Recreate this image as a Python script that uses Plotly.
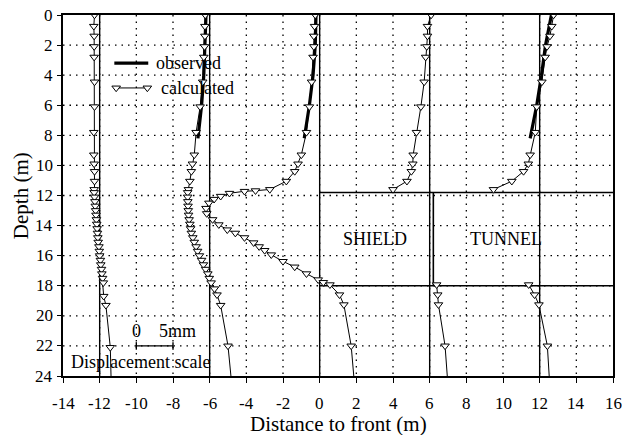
import plotly.graph_objects as go

FONT = "Liberation Serif"
SCALE = 0.4          # plot metres per mm of displacement (5 mm = 2 m)
REFS = {"A": -12, "B": -6, "C": 0, "D": 6, "E": 12}

# depths of calculated nodes above the tunnel (m)
D_UP = [0, 0.75, 1.4, 2.1, 2.8, 4.45, 6.1, 7.8, 9.3, 9.9, 10.4, 11.05, 11.6]
# dense nodes beside the shield (m)
D_DENSE = [11.8, 12.1, 12.4, 12.7, 13.0, 13.3, 13.6, 13.9, 14.2, 14.5, 14.8,
           15.1, 15.4, 15.7, 16.0, 16.3, 16.6, 16.9, 17.2, 17.5, 17.8]

# calculated displacement (mm) -- inclinometer at -12 m
A_depth = D_UP + D_DENSE + [18.7, 19.3, 22.1, 24]
A_disp = ([-0.7, -0.8, -0.75, -0.75, -0.75, -0.7, -0.7, -0.8, -0.8, -0.75, -0.7, -0.7, -0.75]
          + [-0.75, -0.7, -0.65, -0.6, -0.55, -0.5, -0.45, -0.4, -0.35, -0.3, -0.25,
             -0.2, -0.1, -0.05, 0.0, 0.1, 0.15, 0.25, 0.3, 0.4, 0.5]
          + [0.55, 0.85, 1.45, 1.55])

# inclinometer at -6 m
B_depth = D_UP + D_DENSE + [18.2, 18.6, 19.3, 22.0, 24]
B_disp = ([-0.6, -0.65, -0.65, -0.7, -0.8, -0.95, -1.3, -1.85, -2.1, -2.35, -2.5, -2.7, -2.9]
          + [-3.0, -3.0, -2.98, -2.95, -2.92, -2.88, -2.8, -2.7, -2.6, -2.5, -2.3,
             -2.1, -1.85, -1.65, -1.4, -1.1, -0.85, -0.55, -0.25, -0.05, 0.2]
          + [0.65, 1.0, 1.5, 2.5, 2.9])

# inclinometer at 0 m (shield face)
C_depth = D_UP[:12] + [11.6, 11.68, 11.72, 11.85, 12.05, 12.25, 12.5, 12.85, 13.2, 13.6,
                       13.94, 14.28, 14.5, 14.8, 15.14, 15.4, 15.65, 15.94, 16.38, 16.75,
                       17.2, 17.6, 17.78, 17.93, 18.6, 19.26, 22.0, 24]
C_disp = [-0.6, -0.7, -0.8, -0.8, -0.9, -1.1, -1.4, -1.8, -2.5, -2.95, -3.4, -4.55,
          -6.8, -8.75, -10.25, -12.3, -13.5, -14.4, -15.1, -15.5, -15.4, -14.6,
          -13.75, -12.6, -11.5, -10.25, -9.0, -8.25, -7.5, -6.6, -5.0, -3.4,
          -1.8, -0.2, 0.5, 1.4, 2.7, 3.3, 4.3, 4.65]

# inclinometer at 6 m (None = tunnel gap)
D_depth = D_UP + [None, 17.93, 18.6, 19.26, 22.0, 24]
D_disp = [0.2, -0.3, -0.3, -0.4, -0.55, -0.75, -1.2, -1.8, -2.25, -2.3, -2.5, -3.1, -5.0,
          None, 0.95, 1.1, 1.2, 2.1, 2.4]

# inclinometer at 12 m
E_depth = D_UP + [None, 17.93, 18.6, 19.26, 22.0, 24]
E_disp = [1.9, 1.65, 1.4, 1.0, 0.75, 0.3, -0.4, -0.6, -1.3, -1.55, -2.2, -3.8, -6.3,
          None, -1.5, -0.7, -0.1, 1.05, 1.3]

# observed (mm)
OBS_DEPTH = [0, 2, 4, 6, 8.2]
OBS = {"B": [-0.5, -0.6, -0.8, -1.1, -1.6],
       "C": [-0.5, -0.6, -0.9, -1.4, -2.1],
       "E": [1.6, 0.8, 0.25, -0.4, -1.3]}

TUNNEL_TOP, TUNNEL_BOTTOM, SHIELD_TAIL = 11.8, 18.0, 6.2
X_TICKS = list(range(-14, 17, 2))
Y_TICKS = list(range(0, 25, 2))
X_TICK_LABELS = [str(v) for v in X_TICKS]
Y_TICK_LABELS = [str(v) for v in Y_TICKS]
X_RANGE = [-14, 16]
Y_RANGE = [0, 24]

calc = {"A": (A_depth, A_disp), "B": (B_depth, B_disp), "C": (C_depth, C_disp),
        "D": (D_depth, D_disp), "E": (E_depth, E_disp)}

fig = go.Figure()


def pos(ref, disp):
    return [None if v is None else ref + v * SCALE for v in disp]


# dotted grid (drawn as traces, behind everything)
gx, gy = [], []
for v in X_TICKS[1:-1]:
    gx += [v, v, None]
    gy += [Y_RANGE[0], Y_RANGE[1], None]
for v in Y_TICKS[1:-1]:
    gx += [X_RANGE[0], X_RANGE[1], None]
    gy += [v, v, None]
fig.add_trace(go.Scatter(x=gx, y=gy, mode="lines", hoverinfo="skip",
                         line=dict(color="black", width=1.3, dash="1.5px,5px")))

# reference (initial) inclinometer lines
for key, ref in REFS.items():
    fig.add_trace(go.Scatter(x=[ref, ref], y=Y_RANGE, mode="lines",
                             line=dict(color="black", width=1.4), hoverinfo="skip"))

# tunnel outline
fig.add_trace(go.Scatter(x=[0, 16, None, 0, 16, None, SHIELD_TAIL, SHIELD_TAIL],
                         y=[TUNNEL_TOP, TUNNEL_TOP, None, TUNNEL_BOTTOM, TUNNEL_BOTTOM, None,
                            TUNNEL_TOP, TUNNEL_BOTTOM],
                         mode="lines", line=dict(color="black", width=1.6), hoverinfo="skip"))

# observed
for key, vals in OBS.items():
    fig.add_trace(go.Scatter(x=pos(REFS[key], vals), y=OBS_DEPTH, mode="lines",
                             line=dict(color="black", width=3.2)))

tri = dict(symbol="triangle-down", size=7.5, color="white",
           line=dict(color="black", width=1))
# calculated
for key, (dep, disp) in calc.items():
    xs = pos(REFS[key], disp)
    fig.add_trace(go.Scatter(x=xs, y=dep, mode="lines",
                             line=dict(color="black", width=1)))
    fig.add_trace(go.Scatter(x=xs[:-1], y=dep[:-1], mode="markers", marker=tri))

# legend
fig.add_trace(go.Scatter(x=[-11.2, -9.35], y=[3.2, 3.2], mode="lines",
                         line=dict(color="black", width=3.2)))
fig.add_trace(go.Scatter(x=[-11.1, -9.4], y=[4.85, 4.85], mode="lines+markers",
                         line=dict(color="black", width=1), marker=tri))

# displacement scale bar (0 .. 5 mm)
SB_Y = 22.0
fig.add_trace(go.Scatter(x=[-10, -10 + 5 * SCALE, None, -10, -10, None, -10 + 5 * SCALE, -10 + 5 * SCALE],
                         y=[SB_Y, SB_Y, None, SB_Y - 0.25, SB_Y + 0.25, None, SB_Y - 0.25, SB_Y + 0.25],
                         mode="lines", line=dict(color="black", width=1.4)))

txt = dict(family=FONT, size=18, color="black")
tickfont = dict(family=FONT, size=17, color="black")
ann = [
    dict(x=-9.05, y=3.2, text="observed", xanchor="left"),
    dict(x=-8.75, y=4.85, text="calculated", xanchor="left"),
    dict(x=3.0, y=14.9, text="SHIELD"),
    dict(x=10.15, y=14.9, text="TUNNEL"),
    dict(x=-10.0, y=21.0, text="0"),
    dict(x=-7.75, y=21.0, text="5mm"),
    dict(x=-9.75, y=23.05, text="Displacement scale"),
]
annotations = [dict(a, xref="x", yref="y", showarrow=False, font=txt, yanchor="middle") for a in ann]
# tick labels
annotations += [dict(x=v, y=-0.077, xref="x", yref="paper", text=t, showarrow=False,
                     xanchor="center", yanchor="middle", font=tickfont)
                for v, t in zip(X_TICKS, X_TICK_LABELS)]
annotations += [dict(x=-0.014, y=v, xref="paper", yref="y", text=t, showarrow=False,
                     xanchor="right", yanchor="middle", font=tickfont)
                for v, t in zip(Y_TICKS, Y_TICK_LABELS)]
annotations += [
    dict(x=0.5, y=-0.132, xref="paper", yref="paper", text="Distance to front (m)",
         xanchor="center", yanchor="middle",
         showarrow=False, font=dict(family=FONT, size=21, color="black")),
    dict(x=-0.077, y=0.5, xref="paper", yref="paper", text="Depth (m)", textangle=-90,
         xanchor="center", yanchor="middle",
         showarrow=False, font=dict(family=FONT, size=21, color="black")),
]

fig.update_layout(
    template="none",
    width=622, height=435, margin=dict(l=63, r=9, t=15, b=59),
    font=dict(family=FONT, size=17, color="black"),
    paper_bgcolor="white", plot_bgcolor="white", showlegend=False,
    annotations=annotations,
)
fig.update_xaxes(range=X_RANGE, tickmode="array", tickvals=X_TICKS,
                 showticklabels=False, showgrid=False,
                 showline=True, mirror=True, linecolor="black", linewidth=1.5,
                 ticks="outside", ticklen=5, tickcolor="black", tickwidth=1.3,
                 zeroline=False)
fig.update_yaxes(range=Y_RANGE[::-1], tickmode="array", tickvals=Y_TICKS,
                 showticklabels=False, showgrid=False,
                 showline=True, mirror=True, linecolor="black", linewidth=1.5,
                 ticks="outside", ticklen=4, tickcolor="black", tickwidth=1.3,
                 zeroline=False)

fig.write_html("out.html")
